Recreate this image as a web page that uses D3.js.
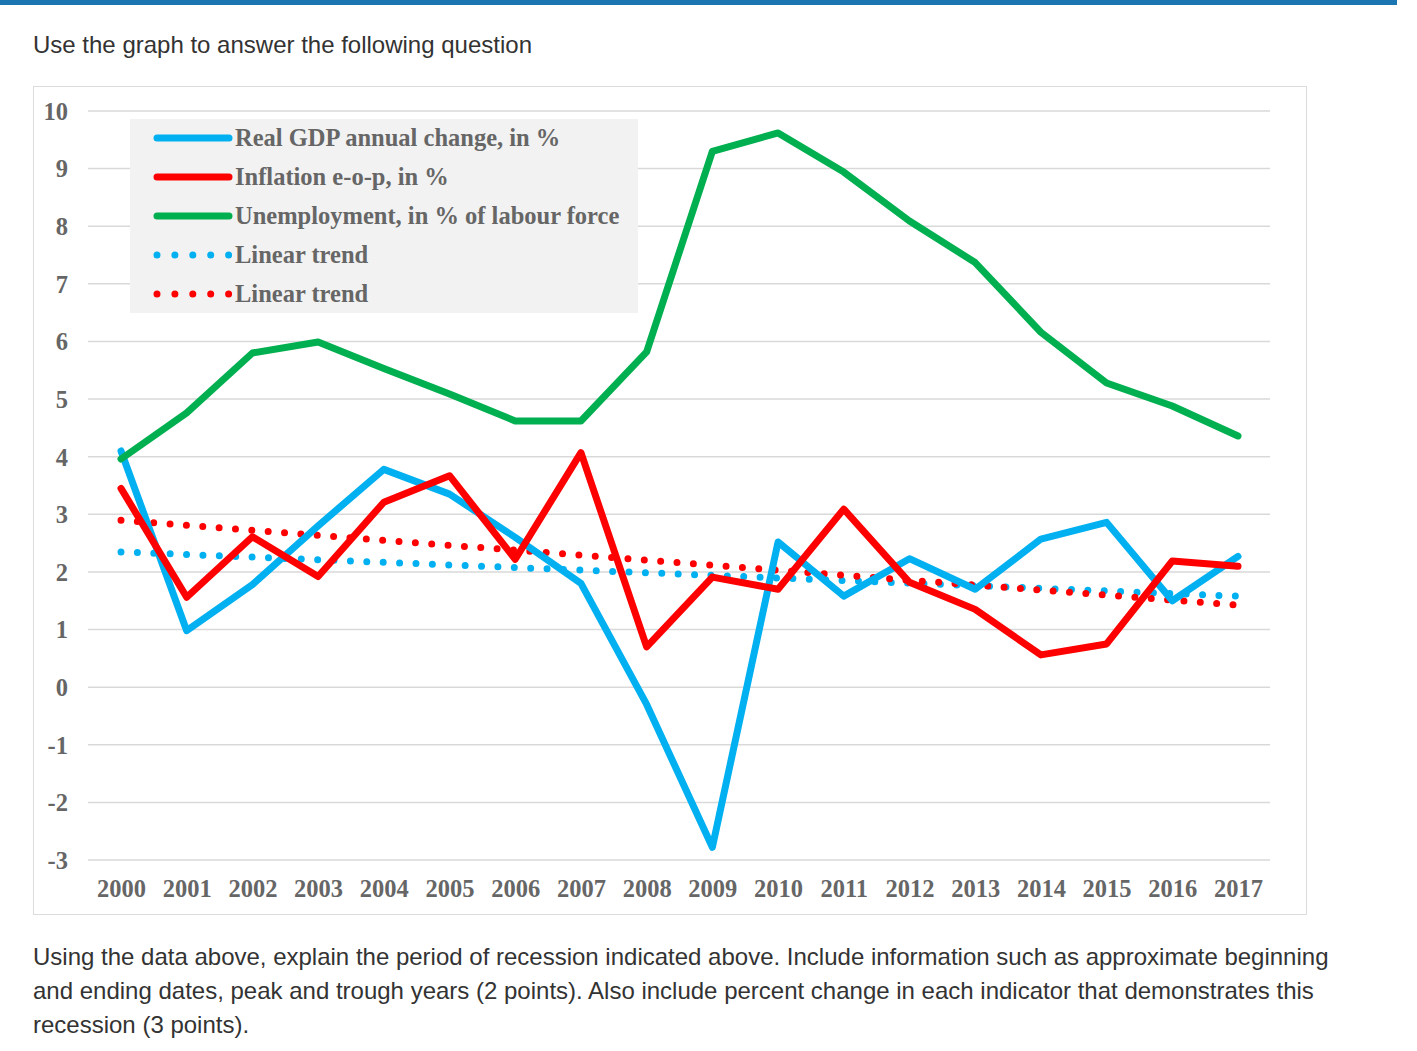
<!DOCTYPE html>
<html>
<head>
<meta charset="utf-8">
<script src="https://cdn.jsdelivr.net/npm/d3@7"></script>
<style>
  body { margin: 0; background: #fff; }
  svg { display: block; }
</style>
</head>
<body>
<div id="chart"></div>
<script>
// chart values
const years = [2000, 2001, 2002, 2003, 2004, 2005, 2006, 2007, 2008,
               2009, 2010, 2011, 2012, 2013, 2014, 2015, 2016, 2017];
const gdp = [4.1, 0.98, 1.78, 2.8, 3.78, 3.35, 2.6, 1.8, -0.3,
             -2.78, 2.52, 1.58, 2.23, 1.7, 2.57, 2.86, 1.5, 2.27];
const inflation = [3.45, 1.56, 2.61, 1.92, 3.21, 3.67, 2.22, 4.07, 0.7,
                   1.91, 1.7, 3.09, 1.82, 1.35, 0.56, 0.75, 2.19, 2.1];
const unemployment = [3.96, 4.76, 5.8, 5.99, 5.53, 5.09, 4.62, 4.62, 5.82,
                      9.3, 9.62, 8.94, 8.09, 7.37, 6.16, 5.28, 4.88, 4.36];
const yTicks = [10, 9, 8, 7, 6, 5, 4, 3, 2, 1, 0, -1, -2, -3];
const legendLabels = ["Real GDP annual change, in %", "Inflation e-o-p, in %",
  "Unemployment, in % of labour force", "Linear trend", "Linear trend"];

const W = 1417, H = 1051;
const svg = d3.select("#chart").append("svg")
  .attr("width", W).attr("height", H);

// top blue bar of the page
svg.append("rect").attr("x", 0).attr("y", 0).attr("width", 1397).attr("height", 5)
  .attr("fill", "#1b75b1");

const pageFont = "'Liberation Sans', Arial, sans-serif";
svg.append("text").attr("x", 33).attr("y", 53)
  .style("font-family", pageFont).style("font-size", "24px").attr("fill", "#333")
  .text("Use the graph to answer the following question");

const para = [
  "Using the data above, explain the period of recession indicated above. Include information such as approximate beginning",
  "and ending dates, peak and trough years (2 points). Also include percent change in each indicator that demonstrates this",
  "recession (3 points)."
];
svg.append("g").selectAll("text").data(para).join("text")
  .attr("x", 33).attr("y", (d, i) => 965 + i * 34)
  .style("font-family", pageFont).style("font-size", "24px").attr("fill", "#333")
  .text(d => d);

// chart frame
svg.append("rect").attr("x", 33.5).attr("y", 86.5).attr("width", 1273).attr("height", 828)
  .attr("fill", "#fff").attr("stroke", "#dcdcdc").attr("stroke-width", 1);

const x = d3.scaleLinear().domain([2000, 2017]).range([121, 1238]);
const y = d3.scaleLinear().domain([-3, 10]).range([860, 111]);

const serif = "'Liberation Serif', 'Times New Roman', serif";
const labelColor = "#666";

// gridlines
svg.append("g").selectAll("line").data(yTicks).join("line")
  .attr("x1", 88).attr("x2", 1270)
  .attr("y1", d => y(d)).attr("y2", d => y(d))
  .attr("stroke", "#d9d9d9").attr("stroke-width", 1.5);

// y axis labels
const yAxis = d3.axisLeft(y).tickValues(yTicks).tickFormat(d => String(d))
  .tickSize(0).tickPadding(0);
const gy = svg.append("g").attr("transform", "translate(68,0)").call(yAxis);
gy.select(".domain").remove();
gy.selectAll("text")
  .style("font-family", serif).style("font-size", "24.5px").style("font-weight", "bold")
  .attr("fill", labelColor).attr("dy", "0.34em");

// x axis labels
const xAxis = d3.axisBottom(x).tickValues(years).tickFormat(d3.format("d")).tickSize(0).tickPadding(0);
const gx = svg.append("g").attr("transform", "translate(0,880)").call(xAxis);
gx.select(".domain").remove();
gx.selectAll("text")
  .style("font-family", serif).style("font-size", "24.5px").style("font-weight", "bold")
  .attr("fill", labelColor).attr("dy", "0.69em");

// linear trend from least squares
function trend(vals) {
  const mx = d3.mean(years), my = d3.mean(vals);
  const b = d3.sum(years, (t, i) => (t - mx) * (vals[i] - my)) /
            d3.sum(years, t => (t - mx) * (t - mx));
  return years.map(t => my + b * (t - mx));
}

const line = d3.line().x((d, i) => x(years[i])).y(d => y(d));

const BLUE = "#00b0f0", RED = "#ff0000", GREEN = "#00b050";

// trend lines (dotted)
[[trend(gdp), BLUE], [trend(inflation), RED]].forEach(([vals, c]) => {
  svg.append("path").datum(vals).attr("d", line)
    .attr("fill", "none").attr("stroke", c).attr("stroke-width", 7)
    .attr("stroke-linecap", "round").attr("stroke-dasharray", "0 16.4");
});

// series lines
[[gdp, BLUE], [inflation, RED], [unemployment, GREEN]].forEach(([vals, c]) => {
  svg.append("path").datum(vals).attr("d", line)
    .attr("fill", "none").attr("stroke", c).attr("stroke-width", 7)
    .attr("stroke-linejoin", "round").attr("stroke-linecap", "round");
});

// legend
const legend = svg.append("g");
legend.append("rect").attr("x", 130).attr("y", 119).attr("width", 508).attr("height", 194)
  .attr("fill", "#f2f2f2");
const legColors = [BLUE, RED, GREEN, BLUE, RED];
legendLabels.forEach((lab, i) => {
  const ly = 138 + i * 39;
  const seg = legend.append("line")
    .attr("x1", 157).attr("x2", 229).attr("y1", ly).attr("y2", ly)
    .attr("stroke", legColors[i]).attr("stroke-width", 7).attr("stroke-linecap", "round");
  if (i >= 3) seg.attr("stroke-dasharray", "0 17.9");
  legend.append("text").attr("x", 235).attr("y", ly).attr("dy", "0.33em")
    .style("font-family", serif).style("font-size", "24.5px").style("font-weight", "bold")
    .attr("fill", labelColor).text(lab);
});
</script>
</body>
</html>
